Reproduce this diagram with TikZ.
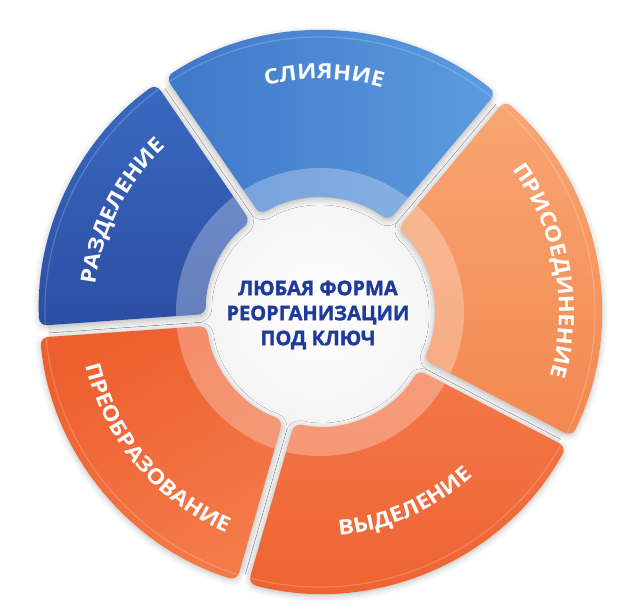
\documentclass[tikz,border=0pt]{standalone}
\usepackage{fontspec}
\usepackage{tikz}
\usetikzlibrary{decorations.text,shadows.blur}
\newfontfamily\segfont[FakeStretch=1.12, LetterSpace=12]{Open Sans}
\newfontfamily\corefont[FakeBold=1.6]{Open Sans}
\definecolor{mergeL}{HTML}{3F77C8}
\definecolor{mergeR}{HTML}{5C9CDF}
\definecolor{splitT}{HTML}{3A69C1}
\definecolor{splitB}{HTML}{2B4EA2}
\definecolor{joinT}{HTML}{F8A673}
\definecolor{joinB}{HTML}{F3884F}
\definecolor{spinT}{HTML}{F47848}
\definecolor{spinB}{HTML}{EE6130}
\definecolor{convT}{HTML}{EE5F2F}
\definecolor{convB}{HTML}{F47B49}
\definecolor{coreblue}{HTML}{1E3A9B}
\def\Ro{281pt}\def\Ri{114pt}\def\Rb{144pt}\def\gapo{1.2}\def\gapi{3}
\def\ringseg[#1](#2:#3){\path[#1] ({#2+\gapo}:\Ro) arc[start angle={#2+\gapo}, end angle={#3-\gapo}, radius=\Ro] -- ({#3-\gapi}:\Ri) arc[start angle={#3-\gapi}, end angle={#2+\gapi}, radius=\Ri] -- cycle;
	\begin{scope}
		\clip[rounded corners=8pt] ({#2+\gapo}:\Ro) arc[start angle={#2+\gapo}, end angle={#3-\gapo}, radius=\Ro] -- ({#3-\gapi}:\Ri) arc[start angle={#3-\gapi}, end angle={#2+\gapi}, radius=\Ri] -- cycle;
		\fill[white, opacity=0.28] (0,0) circle (\Rb);
		\draw[white, opacity=0.2, line width=1.2pt] (0,0) circle ({\Ro-6pt});
	\end{scope}}
\def\arclabel(#1:#2:#3)#4{\path[decorate, decoration={text along path, text align=center, text={|\segfont\bfseries\fontsize{21}{25}\selectfont\color{white}|#4}}] (#1:#3) arc[start angle=#1, end angle=#2, radius=#3];}

\begin{document}
\begin{tikzpicture}
			%%%%% START %%%%%
			
			\useasboundingbox (-320pt,-299pt) rectangle (312pt,312pt);
			
			\fill[black!5] (0,0) circle (272pt);
			\shade[inner color=white, outer color=black!4] (0,0) circle (\Ri);
			
			\ringseg[rounded corners=8pt, blur shadow={shadow xshift=0pt, shadow yshift=-2pt, shadow blur radius=6pt, shadow opacity=25}, left color=mergeL, right color=mergeR](50:124.5)
			\ringseg[rounded corners=8pt, blur shadow={shadow xshift=0pt, shadow yshift=-2pt, shadow blur radius=6pt, shadow opacity=25}, top color=splitT, bottom color=splitB](124.5:184)
			\ringseg[rounded corners=8pt, blur shadow={shadow xshift=0pt, shadow yshift=-2pt, shadow blur radius=6pt, shadow opacity=25}, top color=convT, bottom color=convB, shading angle=30](184:254)
			\ringseg[rounded corners=8pt, blur shadow={shadow xshift=0pt, shadow yshift=-2pt, shadow blur radius=6pt, shadow opacity=25}, top color=spinT, bottom color=spinB](254:332.5)
			\ringseg[rounded corners=8pt, blur shadow={shadow xshift=0pt, shadow yshift=-2pt, shadow blur radius=6pt, shadow opacity=25}, top color=joinT, bottom color=joinB](-27.5:50)
			
			\arclabel(129:49:233pt){СЛИЯНИЕ}
			\arclabel(193:113:226pt){РАЗДЕЛЕНИЕ}
			\arclabel(50.5:-29.5:239pt){ПРИСОЕДИНЕНИЕ}
			\arclabel(-106:-26:224pt){ВЫДЕЛЕНИЕ}
			\arclabel(180:260:240pt){ПРЕОБРАЗОВАНИЕ}
			
			\node[align=center, text=coreblue, font=\corefont\bfseries\fontsize{20}{25}\selectfont] (core) at (-2pt,-3pt) {ЛЮБАЯ ФОРМА\\РЕОРГАНИЗАЦИИ\\ПОД КЛЮЧ};
			
			%%%%% END %%%%%
		\end{tikzpicture}
\end{document}
